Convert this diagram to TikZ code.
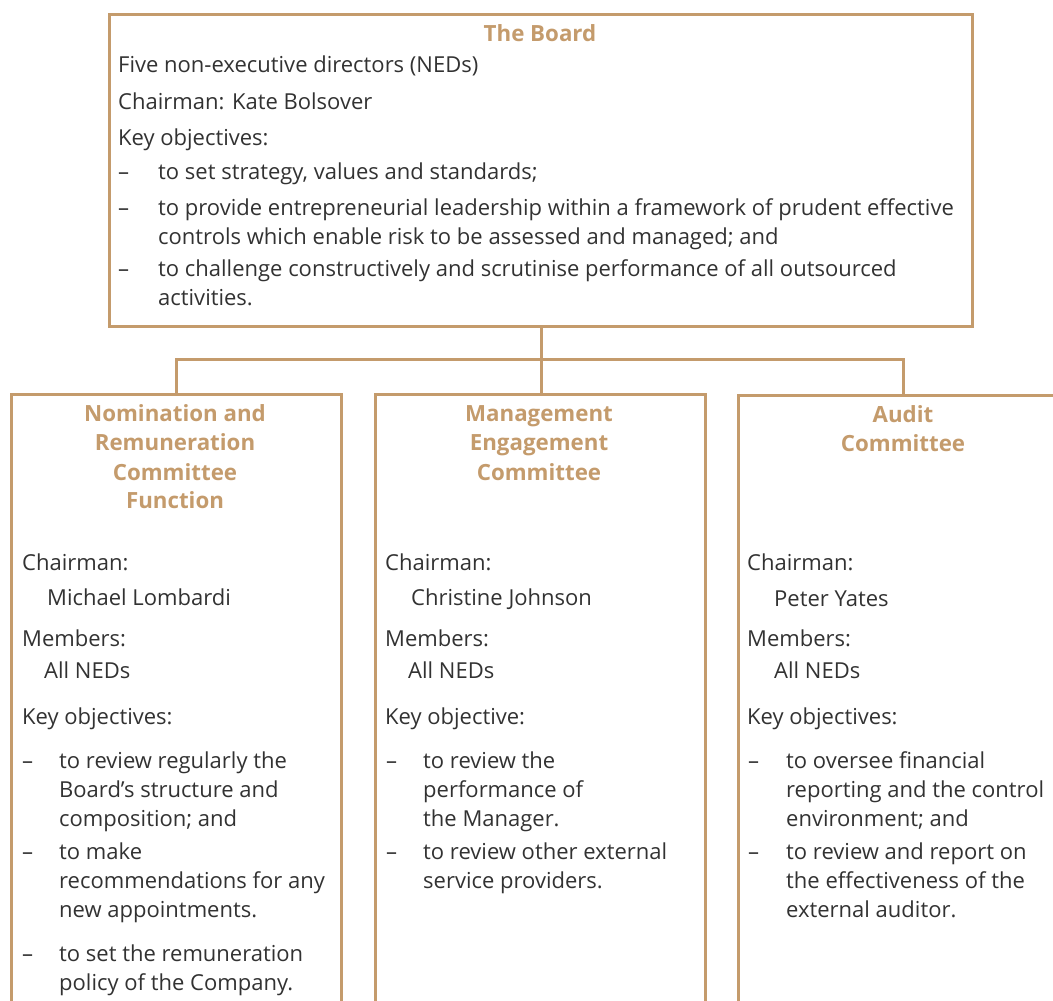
\documentclass[tikz,border=0pt]{standalone}
\usepackage{fontspec}
\setmainfont{Open Sans}
\definecolor{tan}{RGB}{196,155,108}
\definecolor{txtgray}{RGB}{50,50,50}
\newcommand{\bodyf}{\fontsize{22}{29}\selectfont}
\newcommand{\titlef}{\fontsize{22.3}{29}\selectfont\bfseries}
\tikzset{
  box/.style={draw=tan, line width=3pt, inner sep=0pt, anchor=north west},
  conn/.style={draw=tan, line width=3pt},
  txt/.style={anchor=base west, inner sep=0pt, text=txtgray, font=\bodyf},
  ttl/.style={anchor=base, inner sep=0pt, text=tan, font=\titlef},
}
\begin{document}
\begin{tikzpicture}[x=1pt,y=-1pt]
\useasboundingbox (0,0) rectangle (1053,1001);
\clip (0,0) rectangle (1053,1001);
% boxes
\node[box, minimum width=863pt, minimum height=312pt] (board) at (108,13) {};
\node[box, minimum width=330pt, minimum height=650pt] (nom) at (10,393) {};
\node[box, minimum width=330pt, minimum height=650pt] (mec) at (374,393) {};
\node[box, minimum width=330pt, minimum height=650pt] (aud) at (737,394) {};
% connectors
\coordinate (jy) at (0,359);
\draw[conn] (board.south) -- (board.south |- jy) coordinate (j);
\draw[conn] (nom.north) |- (j) -| (aud.north);
\draw[conn] (j) -- (j |- mec.north);
% Board text
\node[ttl] (bt) at (540,41) {The Board};
\node[txt] (b1) at (118,72) {Five non-executive directors (NEDs)};
\node[txt] (b2) at (118,109) {Chairman: Kate Bolsover};
\node[txt] (b3) at (118,145) {Key objectives:};
\node[txt] (bd1) at (118,179) {–};
\node[txt] (b4) at (158,179) {to set strategy, values and standards;};
\node[txt] (bd2) at (118,215) {–};
\node[txt] (b5) at (158,215) {to provide entrepreneurial leadership within a framework of prudent effective};
\node[txt] (b6) at (158,244) {controls which enable risk to be assessed and managed; and};
\node[txt] (bd3) at (118,276) {–};
\node[txt] (b7) at (158,276) {to challenge constructively and scrutinise performance of all outsourced};
\node[txt] (b8) at (158,305) {activities.};
% Nomination box
\node[ttl] (nt1) at (175,421) {Nomination and};
\node[ttl] (nt2) at (175,450) {Remuneration};
\node[ttl] (nt3) at (175,480) {Committee};
\node[ttl] (nt4) at (175,508) {Function};
\node[txt] (n1) at (22,570) {Chairman:};
\node[txt] (n2) at (47,605) {Michael Lombardi};
\node[txt] (n3) at (22,646) {Members:};
\node[txt] (n4) at (44,678) {All NEDs};
\node[txt] (n5) at (22,724) {Key objectives:};
\node[txt] (nd1) at (22,768) {–};
\node[txt] (n6) at (59,768) {to review regularly the};
\node[txt] (n7) at (59,797) {Board’s structure and};
\node[txt] (n8) at (59,826) {composition; and};
\node[txt] (nd2) at (22,859) {–};
\node[txt] (n9) at (59,859) {to make};
\node[txt] (n10) at (59,888) {recommendations for any};
\node[txt] (n11) at (59,917) {new appointments.};
\node[txt] (nd3) at (22,961) {–};
\node[txt] (n12) at (59,961) {to set the remuneration};
\node[txt] (n13) at (59,990) {policy of the Company.};
% Management Engagement box
\node[ttl] (mt1) at (539,421) {Management};
\node[ttl] (mt2) at (539,450) {Engagement};
\node[ttl] (mt3) at (539,480) {Committee};
\node[txt] (m1) at (385,570) {Chairman:};
\node[txt] (m2) at (411,605) {Christine Johnson};
\node[txt] (m3) at (385,646) {Members:};
\node[txt] (m4) at (408,678) {All NEDs};
\node[txt] (m5) at (385,724) {Key objective:};
\node[txt] (md1) at (386,768) {–};
\node[txt] (m6) at (423,768) {to review the};
\node[txt] (m7) at (423,797) {performance of};
\node[txt] (m8) at (423,826) {the Manager.};
\node[txt] (md2) at (386,859) {–};
\node[txt] (m9) at (423,859) {to review other external};
\node[txt] (m10) at (423,888) {service providers.};
% Audit box
\node[ttl] (at1) at (903,422) {Audit};
\node[ttl] (at2) at (903,451) {Committee};
\node[txt] (a1) at (747,570) {Chairman:};
\node[txt] (a2) at (774,606) {Peter Yates};
\node[txt] (a3) at (747,646) {Members:};
\node[txt] (a4) at (774,678) {All NEDs};
\node[txt] (a5) at (747,724) {Key objectives:};
\node[txt] (ad1) at (748,768) {–};
\node[txt] (a6) at (786,768) {to oversee financial};
\node[txt] (a7) at (786,797) {reporting and the control};
\node[txt] (a8) at (786,826) {environment; and};
\node[txt] (ad2) at (748,859) {–};
\node[txt] (a9) at (786,859) {to review and report on};
\node[txt] (a10) at (786,888) {the effectiveness of the};
\node[txt] (a11) at (786,917) {external auditor.};
\end{tikzpicture}
\end{document}
